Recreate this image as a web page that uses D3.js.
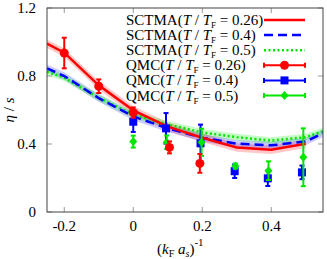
<!DOCTYPE html>
<html>
<head>
<meta charset="utf-8">
<script src="https://cdn.jsdelivr.net/npm/d3@7"></script>
<style>
  body { margin: 0; background: #fff; }
  svg text { font-family: "Liberation Serif", "DejaVu Serif", serif; }
</style>
</head>
<body>
<svg id="chart" width="327" height="259"></svg>
<script>
// SCTMA curves (x = 1/(kF as), y = eta/s)
const curveX = [-0.25, -0.2, -0.1, 0, 0.1, 0.2, 0.3, 0.4, 0.5, 0.55];
const sctma026 = [0.99, 0.937, 0.745, 0.598, 0.502, 0.437, 0.38, 0.366, 0.402, null];
const sctma04 = [0.845, 0.80, 0.67, 0.562, 0.492, 0.437, 0.402, 0.392, 0.415, 0.463];
const sctma05 = [0.825, 0.79, 0.672, 0.572, 0.515, 0.468, 0.44, 0.42, 0.44, 0.475];
const bandHalf = [0.025, 0.022, 0.02];

// QMC points
const qmc026X = [-0.2, -0.1, 0, 0.105, 0.193];
const qmc026Y = [0.935, 0.74, 0.585, 0.38, 0.286];
const qmc026E = [0.09, 0.04, 0.03, 0.035, 0.055];

const qmc04X = [0, 0.095, 0.195, 0.294, 0.39, 0.489];
const qmc04Y = [0.531, 0.492, 0.404, 0.24, 0.198, 0.233];
const qmc04E = [0.06, 0.09, 0.11, 0.04, 0.045, 0.04];

const qmc05X = [0, 0.097, 0.198, 0.296, 0.392, 0.493];
const qmc05Y = [0.414, 0.41, 0.41, 0.27, 0.243, 0.322];
const qmc05E = [0.035, 0.04, 0.08, 0.015, 0.055, 0.17];

const xTicks = [-0.2, 0, 0.2, 0.4];
const yTicks = [0, 0.4, 0.8, 1.2];
const legendLabels = ["SCTMA", "SCTMA", "SCTMA", "QMC", "QMC", "QMC"];
const legendTemps = ["0.26", "0.4", "0.5", "0.26", "0.4", "0.5"];

const red = "#ff0000", blue = "#0000ff", green = "#00e600";

const svg = d3.select("#chart");
const mLeft = 47, mRight = 323, mTop = 8, mBottom = 212;

const x = d3.scaleLinear().domain([-0.25, 0.55]).range([mLeft, mRight]);
const y = d3.scaleLinear().domain([0, 1.2]).range([mBottom, mTop]);

const plot = svg.append("g");
plot.append("clipPath").attr("id", "clip")
  .append("rect").attr("x", mLeft).attr("y", mTop).attr("width", mRight - mLeft).attr("height", mBottom - mTop);
const inner = plot.append("g").attr("clip-path", "url(#clip)");

// bands
const series = [
  { vals: sctma026, color: red, band: "rgba(255,0,0,0.22)", dash: null, half: bandHalf[0] },
  { vals: sctma04, color: blue, band: "rgba(0,0,255,0.2)", dash: "9,5", half: bandHalf[1] },
  { vals: sctma05, color: green, band: "rgba(0,230,0,0.22)", dash: "2,2.5", half: bandHalf[2] }
];

series.forEach(s => {
  const pts = curveX.map((cx, i) => ({ x: cx, y: s.vals[i] })).filter(d => d.y !== null);
  const area = d3.area().x(d => x(d.x)).y0(d => y(d.y - s.half)).y1(d => y(d.y + s.half));
  inner.append("path").attr("d", area(pts)).attr("fill", s.band);
});
series.slice().reverse().forEach(s => {
  const pts = curveX.map((cx, i) => ({ x: cx, y: s.vals[i] })).filter(d => d.y !== null);
  const line = d3.line().x(d => x(d.x)).y(d => y(d.y));
  inner.append("path").attr("d", line(pts)).attr("fill", "none")
    .attr("stroke", s.color).attr("stroke-width", 2.5)
    .attr("stroke-dasharray", s.dash);
});

// markers
function marker(g, shape, cx, cy, color) {
  if (shape === "circle") {
    g.append("circle").attr("cx", cx).attr("cy", cy).attr("r", 4.5).attr("fill", color);
  } else if (shape === "square") {
    g.append("rect").attr("x", cx - 4).attr("y", cy - 4).attr("width", 8).attr("height", 8).attr("fill", color);
  } else {
    g.append("path").attr("d", `M${cx},${cy - 4.5}L${cx + 4},${cy}L${cx},${cy + 4.5}L${cx - 4},${cy}Z`).attr("fill", color);
  }
}

function drawQmc(xs, ys, es, color, shape) {
  const g = inner.append("g");
  xs.forEach((qx, i) => {
    const px = x(qx), y0 = y(ys[i] - es[i]), y1 = y(ys[i] + es[i]);
    g.append("line").attr("x1", px).attr("x2", px).attr("y1", y0).attr("y2", y1)
      .attr("stroke", color).attr("stroke-width", 2);
    [y0, y1].forEach(cy => g.append("line").attr("x1", px - 2.5).attr("x2", px + 2.5)
      .attr("y1", cy).attr("y2", cy).attr("stroke", color).attr("stroke-width", 2));
    marker(g, shape, px, y(ys[i]), color);
  });
}
drawQmc(qmc04X, qmc04Y, qmc04E, blue, "square");
drawQmc(qmc05X, qmc05Y, qmc05E, green, "diamond");
drawQmc(qmc026X, qmc026Y, qmc026E, red, "circle");

// frame and ticks
const tickColor = "#999";
xTicks.forEach(t => {
  plot.append("line").attr("x1", x(t)).attr("x2", x(t)).attr("y1", mBottom).attr("y2", mBottom - 5).attr("stroke", tickColor);
  plot.append("line").attr("x1", x(t)).attr("x2", x(t)).attr("y1", mTop).attr("y2", mTop + 5).attr("stroke", tickColor);
});
yTicks.forEach(t => {
  plot.append("line").attr("x1", mLeft).attr("x2", mLeft + 5).attr("y1", y(t)).attr("y2", y(t)).attr("stroke", tickColor);
  plot.append("line").attr("x1", mRight).attr("x2", mRight - 5).attr("y1", y(t)).attr("y2", y(t)).attr("stroke", tickColor);
});
plot.append("rect").attr("x", mLeft).attr("y", mTop).attr("width", mRight - mLeft).attr("height", mBottom - mTop)
  .attr("fill", "none").attr("stroke", "#444").attr("stroke-width", 1);

// tick labels
svg.append("g").selectAll("text").data(xTicks).join("text")
  .attr("x", d => x(d)).attr("y", 231).attr("text-anchor", "middle")
  .attr("font-size", 15).text(d => d === 0 ? "0" : d3.format(".1f")(d).replace("−", "-"));
svg.append("g").selectAll("text").data(yTicks).join("text")
  .attr("x", 36).attr("y", d => y(d) + 5).attr("text-anchor", "end")
  .attr("font-size", 15).text(d => d === 0 ? "0" : d3.format(".1f")(d));

// axis titles
const yl = svg.append("text").attr("transform", "translate(14,110) rotate(-90)")
  .attr("text-anchor", "middle").attr("font-size", 15);
yl.append("tspan").attr("font-style", "italic").text("η");
yl.append("tspan").text(" / ");
yl.append("tspan").attr("font-style", "italic").text("s");

const xl = svg.append("text").attr("x", 157).attr("y", 254).attr("font-size", 15);
xl.append("tspan").text("(");
xl.append("tspan").attr("font-style", "italic").text("k");
xl.append("tspan").attr("font-size", 10).attr("dy", 3).text("F");
xl.append("tspan").attr("dy", -3).text(" ");
xl.append("tspan").attr("font-style", "italic").text("a");
xl.append("tspan").attr("font-size", 10).attr("font-style", "italic").attr("dy", 3).text("s");
xl.append("tspan").attr("dy", -3).text(")");
xl.append("tspan").attr("font-size", 11).attr("dy", -8).text("-1");

// legend
const legend = svg.append("g");
const legendColors = [red, blue, green, red, blue, green];
const legendShapes = [null, null, null, "circle", "square", "diamond"];
const legendDash = [null, "9,5", "2,2.5", null, null, null];
legendLabels.forEach((lab, i) => {
  const ly = 20 + i * 15.1;
  const t = legend.append("text").attr("x", 126).attr("y", ly + 5).attr("font-size", 15);
  t.append("tspan").text(lab + "(");
  t.append("tspan").attr("font-style", "italic").text("T");
  t.append("tspan").text(" / ");
  t.append("tspan").attr("font-style", "italic").text("T");
  t.append("tspan").attr("font-size", 9).attr("dy", 3).text("F");
  t.append("tspan").attr("dy", -3).text(" = " + legendTemps[i] + ")");
  legend.append("line").attr("x1", 264).attr("x2", 305).attr("y1", ly).attr("y2", ly)
    .attr("stroke", legendColors[i]).attr("stroke-width", i < 3 ? 2.5 : 2)
    .attr("stroke-dasharray", legendDash[i]);
  if (legendShapes[i]) {
    [264, 305].forEach(cx => legend.append("line").attr("x1", cx).attr("x2", cx)
      .attr("y1", ly - 2.5).attr("y2", ly + 2.5).attr("stroke", legendColors[i]).attr("stroke-width", 2));
    marker(legend, legendShapes[i], 284.5, ly, legendColors[i]);
  }
});
</script>
</body>
</html>
